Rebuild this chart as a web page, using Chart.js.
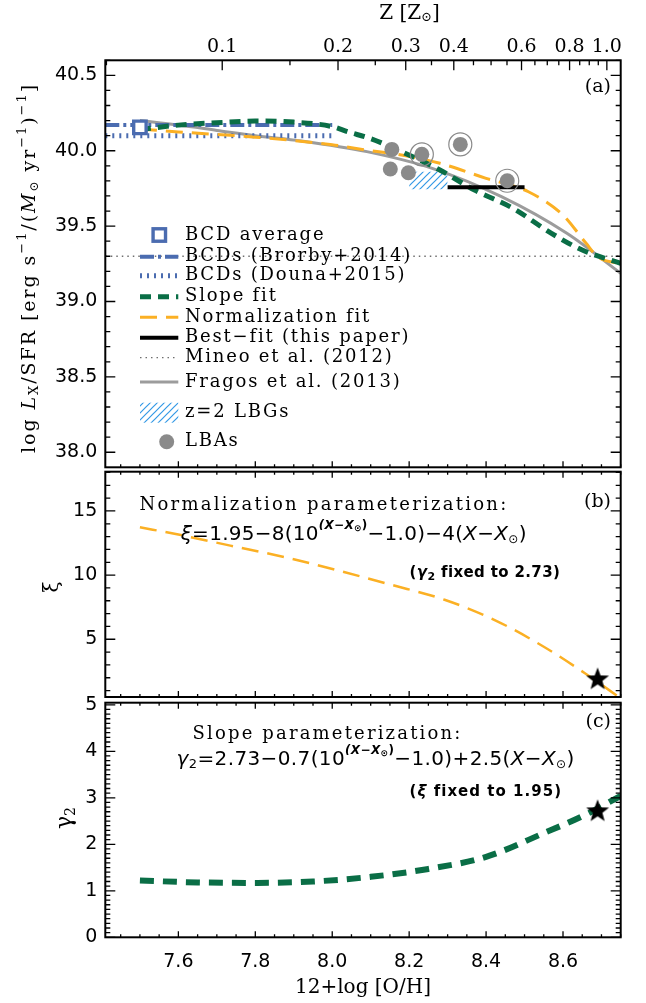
<!DOCTYPE html>
<html>
<head>
<meta charset="utf-8">
<title>Lx/SFR vs metallicity</title>
<script src="https://cdn.jsdelivr.net/npm/chart.js@4.4.1/dist/chart.umd.min.js"></script>
<style>
  body { margin: 0; background: #fff; }
  #fig { position: relative; width: 646px; height: 1003px; }
  #fig canvas { position: absolute; left: 0; top: 0; }
</style>
</head>
<body>
<div id="fig">
  <canvas id="panelA" width="646" height="1003"></canvas>
  <canvas id="panelB" width="646" height="1003"></canvas>
  <canvas id="panelC" width="646" height="1003"></canvas>
</div>
<script>
// ---------------- data ----------------
const OH_MIN = 7.41, OH_MAX = 8.75;
const OH_SUN = 8.714;           // 12+log(O/H) where Z = Z_sun on the top axis

const ohTicks = [7.6, 7.8, 8.0, 8.2, 8.4, 8.6];
const ohTickLabels = ['7.6', '7.8', '8.0', '8.2', '8.4', '8.6'];
const zTicks = [0.1, 0.2, 0.3, 0.4, 0.6, 0.8, 1.0];
const zTickLabels = ['0.1', '0.2', '0.3', '0.4', '0.6', '0.8', '1.0'];

// panel (a): log Lx/SFR
const lxTicks = [38.0, 38.5, 39.0, 39.5, 40.0, 40.5];
const lxTickLabels = ['38.0', '38.5', '39.0', '39.5', '40.0', '40.5'];

const bcdAvgOH = [7.50];
const bcdAvgLx = [40.155];
const brorbyOH = [7.41, 8.00];
const brorbyLx = [40.17, 40.17];
const dounaOH = [7.41, 8.00];
const dounaLx = [40.10, 40.10];
const slopeFitOH = [7.50, 7.60, 7.70, 7.80, 7.90, 8.00, 8.04, 8.10, 8.18, 8.28, 8.37, 8.47, 8.57, 8.65, 8.75];
const slopeFitLx = [40.14, 40.17, 40.186, 40.197, 40.19, 40.16, 40.126, 40.08, 39.994, 39.872, 39.739, 39.618, 39.452, 39.341, 39.253];
const normFitOH = [7.50, 7.60, 7.80, 8.00, 8.10, 8.18, 8.28, 8.40, 8.51, 8.60, 8.66, 8.69, 8.75];
const normFitLx = [40.145, 40.125, 40.09, 40.04, 40.0, 39.972, 39.917, 39.817, 39.728, 39.573, 39.386, 39.297, 39.25];
const bestFitOH = [8.30, 8.50];
const bestFitLx = [39.757, 39.757];
const mineoOH = [7.41, 8.75];
const mineoLx = [39.30, 39.30];
const fragosOH = [7.50, 7.60, 7.70, 7.80, 7.92, 8.09, 8.26, 8.44, 8.61, 8.75];
const fragosLx = [40.20, 40.17, 40.135, 40.10, 40.065, 39.994, 39.883, 39.695, 39.452, 39.187];
const lbgOH = [8.20, 8.30];
const lbgTop = [39.86, 39.86];
const lbgBottom = 39.745;
const lbaOH = [8.155, 8.151, 8.198, 8.233, 8.333, 8.455];
const lbaLx = [40.009, 39.879, 39.854, 39.976, 40.042, 39.801];
const lbaRingOH = [8.233, 8.333, 8.455];
const lbaRingLx = [39.976, 40.042, 39.801];

const legendLabels = ['BCD average', 'BCDs (Brorby+2014)', 'BCDs (Douna+2015)', 'Slope fit',
  'Normalization fit', 'Best\u2212fit (this paper)', 'Mineo et al. (2012)', 'Fragos et al. (2013)',
  'z=2 LBGs', 'LBAs'];

// panel (b): normalization xi
const xiTicks = [5, 10, 15];
const xiTickLabels = ['5', '10', '15'];
const xiOH = [7.50, 7.60, 7.735, 7.885, 8.024, 8.153, 8.292, 8.421, 8.55, 8.657, 8.75];
const xiVals = [13.73, 13.16, 12.30, 11.34, 10.29, 9.25, 8.08, 6.52, 4.42, 2.35, 0.40];
const xiStarOH = [8.69];
const xiStarVal = [1.95];

// panel (c): slope gamma2
const gamTicks = [0, 1, 2, 3, 4, 5];
const gamTickLabels = ['0', '1', '2', '3', '4', '5'];
const gamOH = [7.50, 7.65, 7.80, 7.95, 8.10, 8.25, 8.40, 8.55, 8.657, 8.75];
const gamVals = [1.22, 1.18, 1.17, 1.20, 1.30, 1.47, 1.73, 2.24, 2.63, 3.04];
const gamStarOH = [8.69];
const gamStarVal = [2.73];

// ---------------- layout / style ----------------
const PLOT_LEFT = 105.3, PLOT_RIGHT = 620.7;
const A_TOP = 60.3, A_BOTTOM = 467.3;
const B_TOP = 471.7, B_BOTTOM = 697;
const C_TOP = 702.7, C_BOTTOM = 937.3;

const SERIF = '"DejaVu Serif", serif';
const SANS = '"DejaVu Sans", "Liberation Sans", sans-serif';
const BLUE = '#4b6cb0', GREEN = '#0a6e46', ORANGE = '#fbb024';
const GRAY = '#9c9c9c', DOTGRAY = '#6e6e6e', LBA_GRAY = '#8a8a8a', HATCH = '#3399e6';

function steps(a, b, d) {
  const out = [];
  for (let v = a; v <= b + 1e-9; v += d) out.push(Math.round(v * 1000) / 1000);
  return out;
}
const ohMinor = steps(7.45, 8.75, 0.05);
const zMinor = steps(0.05, 1.0, 0.05);

const pts = (xs, ys) => xs.map((x, i) => ({x, y: ys[i]}));

// diagonal hatch tile, lines rising to the right
function makeHatch(color) {
  const c = document.createElement('canvas');
  c.width = c.height = 7;
  const g = c.getContext('2d');
  g.strokeStyle = color;
  g.lineWidth = 1.2;
  g.beginPath();
  for (let k = -1; k <= 1; k++) {
    g.moveTo(-1 + k * 7, 8);
    g.lineTo(8 + k * 7, -1);
  }
  g.stroke();
  return g.createPattern(c, 'repeat');
}

function makeStar(r) {
  const c = document.createElement('canvas');
  const s = Math.ceil(2 * r + 2);
  c.width = c.height = s;
  const g = c.getContext('2d');
  g.translate(s / 2, s / 2 + 1);
  g.beginPath();
  for (let i = 0; i < 10; i++) {
    const rr = i % 2 ? r * 0.42 : r;
    const a = -Math.PI / 2 + i * Math.PI / 5;
    g.lineTo(rr * Math.cos(a), rr * Math.sin(a));
  }
  g.closePath();
  g.fillStyle = '#000';
  g.fill();
  return c;
}

// text made of runs (sub/superscripts, italics), optionally stretched to a width
function drawRich(ctx, runs, x, y, base) {
  const font = r => `${r.style || base.style || 'normal'} ${r.weight || base.weight || 'normal'} ${r.size || base.size}px ${r.family || base.family}`;
  ctx.save();
  ctx.textBaseline = 'middle';
  ctx.textAlign = 'left';
  ctx.fillStyle = '#000';
  ctx.letterSpacing = '0px';
  let n = 0, w0 = 0;
  const widths = runs.map(r => {
    ctx.font = font(r);
    const w = ctx.measureText(r.t).width;
    n += [...r.t].length;
    w0 += w;
    return w;
  });
  const ls = base.width ? Math.max(0, (base.width - w0) / n) : (base.spacing || 0);
  const total = w0 + ls * n;
  let cx = base.align === 'center' ? x - total / 2 : base.align === 'right' ? x - total : x;
  runs.forEach((r, i) => {
    ctx.font = font(r);
    ctx.letterSpacing = ls + 'px';
    ctx.fillText(r.t, cx, y + (r.dy || 0));
    cx += widths[i] + ls * [...r.t].length;
  });
  ctx.restore();
}

function drawRotated(ctx, runs, x, y, base) {
  ctx.save();
  ctx.translate(x, y);
  ctx.rotate(-Math.PI / 2);
  drawRich(ctx, runs, 0, 0, Object.assign({align: 'center'}, base));
  ctx.restore();
}

// box with inward ticks on all four sides
function makeFrame(cfg) {
  return {
    id: 'frame',
    afterDraw(chart) {
      const {ctx, chartArea: a} = chart;
      const xs = chart.scales.x, ys = chart.scales.y;
      ctx.save();
      ctx.strokeStyle = '#000';
      ctx.lineWidth = 1.3;
      ctx.beginPath();
      const yTick = (v, len) => {
        const p = ys.getPixelForValue(v);
        ctx.moveTo(a.left, p); ctx.lineTo(a.left + len, p);
        ctx.moveTo(a.right, p); ctx.lineTo(a.right - len, p);
      };
      const xTick = (v, len, top, bottom) => {
        const p = xs.getPixelForValue(v);
        if (bottom) { ctx.moveTo(p, a.bottom); ctx.lineTo(p, a.bottom - len); }
        if (top) { ctx.moveTo(p, a.top); ctx.lineTo(p, a.top + len); }
      };
      cfg.yMinor.forEach(v => yTick(v, 5));
      cfg.yMajor.forEach(v => yTick(v, 10));
      ohMinor.forEach(v => xTick(v, 3, !cfg.zTop, true));
      ohTicks.forEach(v => xTick(v, 6, !cfg.zTop, true));
      if (cfg.zTop) {
        zMinor.forEach(z => xTick(OH_SUN + Math.log10(z), 5, true, false));
        zTicks.forEach(z => xTick(OH_SUN + Math.log10(z), 10, true, false));
      }
      ctx.stroke();
      ctx.lineWidth = 2;
      ctx.strokeRect(a.left, a.top, a.width, a.height);
      ctx.restore();
    }
  };
}

function baseOptions(padTop, padBottom) {
  return {
    responsive: false,
    animation: false,
    events: [],
    layout: {padding: {left: 0, right: 646 - PLOT_RIGHT, top: padTop, bottom: padBottom}},
    plugins: {legend: {display: false}, tooltip: {enabled: false}},
    scales: {}
  };
}

function yScale(min, max, ticks, labels) {
  return {
    type: 'linear', min, max,
    grid: {display: false, drawTicks: false},
    border: {display: false},
    afterBuildTicks: s => { s.ticks = ticks.map(v => ({value: v})); },
    afterFit: s => { s.width = PLOT_LEFT; },
    ticks: {callback: (v, i) => labels[i], color: '#000', padding: 8, font: {family: SANS, size: 19}}
  };
}

function hiddenX() {
  return {type: 'linear', min: OH_MIN, max: OH_MAX, display: false};
}

const hatch = makeHatch(HATCH);
const star = makeStar(12);

// ---------------- panel (a) ----------------
const optsA = baseOptions(0, 1003 - A_BOTTOM);
optsA.scales = {
  x: hiddenX(),
  xTop: {
    type: 'linear', position: 'top', min: OH_MIN, max: OH_MAX,
    grid: {display: false, drawTicks: false},
    border: {display: false},
    afterBuildTicks: s => { s.ticks = zTicks.map(z => ({value: OH_SUN + Math.log10(z)})); },
    afterFit: s => { s.height = A_TOP; },
    ticks: {callback: (v, i) => zTickLabels[i], color: '#000', padding: 2, autoSkip: false, maxRotation: 0,
      font: {family: SERIF, size: 19}}
  },
  y: yScale(37.9, 40.6, lxTicks, lxTickLabels)
};

const line = (label, xs, ys, extra) => Object.assign({
  label, mark: 'line', data: pts(xs, ys), pointRadius: 0, fill: false,
  xAxisID: 'x', yAxisID: 'y'
}, extra);

const legendRowsY = [235, 256.7, 275.7, 296.7, 317.3, 337.7, 357.7, 382, 412.7, 441.7];

const panelATexts = {
  id: 'panelATexts',
  afterDraw(chart) {
    const ctx = chart.ctx;
    drawRotated(ctx, [
      {t: 'log '}, {t: 'L', style: 'italic'}, {t: 'X', size: 13, dy: 5},
      {t: '/SFR [erg s'}, {t: '\u22121', size: 13, dy: -7}, {t: '/('},
      {t: 'M', style: 'italic'}, {t: '\u2299', size: 12, dy: 5}, {t: ' yr'},
      {t: '\u22121', size: 13, dy: -7}, {t: ')'}, {t: '\u22121', size: 13, dy: -7}, {t: ']'}
    ], 30, 268, {size: 19, family: SERIF, width: 370});
    drawRich(ctx, [{t: 'Z ['}, {t: 'Z'}, {t: '\u2299', size: 13, dy: 4}, {t: ']'}],
      409.6, 13.5, {size: 20, family: SERIF, align: 'center'});
    drawRich(ctx, [{t: '(a)'}], 611, 87, {size: 19, family: SERIF, align: 'right'});

    // legend
    const x0 = 140, x1 = 178.3, tx = 185;
    legendLabels.forEach((lab, i) => {
      const ds = chart.data.datasets.find(d => d.label === lab);
      const y = legendRowsY[i];
      ctx.save();
      if (ds.mark === 'line') {
        ctx.strokeStyle = ds.borderColor;
        ctx.lineWidth = ds.borderWidth;
        ctx.setLineDash(ds.borderDash || []);
        ctx.beginPath(); ctx.moveTo(x0, y); ctx.lineTo(x1, y); ctx.stroke();
      } else if (ds.mark === 'square') {
        const s = ds.pointRadius * Math.SQRT2;
        ctx.fillStyle = ds.backgroundColor;
        ctx.strokeStyle = ds.borderColor;
        ctx.lineWidth = ds.borderWidth;
        ctx.fillRect(159.3 - s / 2, y - s / 2, s, s);
        ctx.strokeRect(159.3 - s / 2, y - s / 2, s, s);
      } else if (ds.mark === 'hatch') {
        ctx.fillStyle = ds.backgroundColor;
        ctx.fillRect(x0, y - 10, x1 - x0, 20);
      } else if (ds.mark === 'dot') {
        ctx.fillStyle = ds.backgroundColor;
        ctx.beginPath(); ctx.arc(166.7, y, ds.pointRadius, 0, 2 * Math.PI); ctx.fill();
      }
      ctx.restore();
      drawRich(ctx, [{t: lab}], tx, y, {size: 18, family: SERIF, spacing: 1.8});
    });
  }
};

new Chart(document.getElementById('panelA'), {
  type: 'line',
  data: {
    datasets: [
      {label: 'BCD average', mark: 'square', data: pts(bcdAvgOH, bcdAvgLx), showLine: false,
        pointStyle: 'rect', pointRadius: 8.8, borderColor: BLUE, backgroundColor: '#fff', borderWidth: 3.4,
        xAxisID: 'x', yAxisID: 'y', order: 0},
      {label: 'LBAs', mark: 'dot', data: pts(lbaOH, lbaLx), showLine: false, pointRadius: 7.5,
        backgroundColor: LBA_GRAY, borderWidth: 0, xAxisID: 'x', yAxisID: 'y', order: 1},
      {label: 'LBA rings', data: pts(lbaRingOH, lbaRingLx), showLine: false, pointRadius: 11.5,
        backgroundColor: 'transparent', borderColor: LBA_GRAY, borderWidth: 1.2, xAxisID: 'x', yAxisID: 'y', order: 2},
      line('Best\u2212fit (this paper)', bestFitOH, bestFitLx, {borderColor: '#000', borderWidth: 4, order: 3}),
      line('Slope fit', slopeFitOH, slopeFitLx, {borderColor: GREEN, borderWidth: 5, borderDash: [11, 7],
        cubicInterpolationMode: 'monotone', order: 4}),
      line('Normalization fit', normFitOH, normFitLx, {borderColor: ORANGE, borderWidth: 3, borderDash: [17, 9],
        cubicInterpolationMode: 'monotone', order: 5}),
      line('BCDs (Brorby+2014)', brorbyOH, brorbyLx, {borderColor: BLUE, borderWidth: 4, borderDash: [14, 4, 3, 4], order: 6}),
      line('BCDs (Douna+2015)', dounaOH, dounaLx, {borderColor: BLUE, borderWidth: 5, borderDash: [2, 5], order: 7}),
      {label: 'z=2 LBGs', mark: 'hatch', data: pts(lbgOH, lbgTop), fill: {value: lbgBottom},
        backgroundColor: hatch, borderColor: 'transparent', borderWidth: 0, pointRadius: 0,
        xAxisID: 'x', yAxisID: 'y', order: 8},
      line('Fragos et al. (2013)', fragosOH, fragosLx, {borderColor: GRAY, borderWidth: 3,
        cubicInterpolationMode: 'monotone', order: 9}),
      line('Mineo et al. (2012)', mineoOH, mineoLx, {borderColor: DOTGRAY, borderWidth: 1.3, borderDash: [1.5, 4], order: 10})
    ]
  },
  options: optsA,
  plugins: [makeFrame({yMajor: lxTicks, yMinor: steps(38.0, 40.6, 0.1), zTop: true}), panelATexts]
});

// ---------------- panel (b) ----------------
const optsB = baseOptions(B_TOP, 1003 - B_BOTTOM);
optsB.scales = {x: hiddenX(), y: yScale(0.5, 18.06, xiTicks, xiTickLabels)};

const panelBTexts = {
  id: 'panelBTexts',
  afterDraw(chart) {
    const ctx = chart.ctx;
    drawRotated(ctx, [{t: '\u03be'}], 53, 587, {size: 20, family: SERIF});
    drawRich(ctx, [{t: '(b)'}], 611, 501.7, {size: 19, family: SERIF, align: 'right'});
    drawRich(ctx, [{t: 'Normalization parameterization:'}], 139.5, 505, {size: 18, family: SERIF, width: 369});
    drawRich(ctx, [
      {t: '\u03be', style: 'italic'}, {t: '=1.95\u22128(10'},
      {t: '(X\u2212X', size: 12, dy: -9, style: 'italic', weight: 'bold'}, {t: '\u2299', size: 9, dy: -6, weight: 'bold'},
      {t: ')', size: 12, dy: -9, weight: 'bold'},
      {t: '\u22121.0)\u22124('}, {t: 'X', style: 'italic'}, {t: '\u2212'}, {t: 'X', style: 'italic'},
      {t: '\u2299', size: 12, dy: 5}, {t: ')'}
    ], 180.7, 535, {size: 20, family: SANS, width: 346});
    drawRich(ctx, [{t: '('}, {t: '\u03b3', style: 'italic'}, {t: '2', size: 11, dy: 4}, {t: ' fixed to 2.73)'}],
      409.6, 573.3, {size: 15, family: SANS, weight: 'bold', width: 150});
  }
};

new Chart(document.getElementById('panelB'), {
  type: 'line',
  data: {
    datasets: [
      {label: 'star', data: pts(xiStarOH, xiStarVal), showLine: false, pointStyle: star, pointRadius: 12, order: 0},
      {label: 'xi', data: pts(xiOH, xiVals), borderColor: ORANGE, borderWidth: 2.5, borderDash: [17, 9],
        pointRadius: 0, fill: false, cubicInterpolationMode: 'monotone', order: 1}
    ]
  },
  options: optsB,
  plugins: [makeFrame({yMajor: xiTicks, yMinor: steps(1, 18, 1), zTop: false}), panelBTexts]
});

// ---------------- panel (c) ----------------
const optsC = baseOptions(C_TOP, 0);
optsC.scales = {
  x: {
    type: 'linear', position: 'bottom', min: OH_MIN, max: OH_MAX,
    grid: {display: false, drawTicks: false},
    border: {display: false},
    afterBuildTicks: s => { s.ticks = ohTicks.map(v => ({value: v})); },
    afterFit: s => { s.height = 1003 - C_BOTTOM; },
    ticks: {callback: (v, i) => ohTickLabels[i], color: '#000', padding: 13, autoSkip: false, maxRotation: 0,
      font: {family: SANS, size: 19}},
    title: {display: true, text: '12+log [O/H]', color: '#000', font: {family: SERIF, size: 20},
      padding: {top: 0, bottom: 3}}
  },
  y: yScale(0, 5.045, gamTicks, gamTickLabels)
};

const panelCTexts = {
  id: 'panelCTexts',
  afterDraw(chart) {
    const ctx = chart.ctx;
    drawRotated(ctx, [{t: '\u03b3'}, {t: '2', size: 14, dy: 6}], 65, 818, {size: 22, family: SERIF});
    drawRich(ctx, [{t: '(c)'}], 611, 721.7, {size: 19, family: SERIF, align: 'right'});
    drawRich(ctx, [{t: 'Slope parameterization:'}], 192.5, 734.3, {size: 18, family: SERIF, width: 270});
    drawRich(ctx, [
      {t: '\u03b3', style: 'italic'}, {t: '2', size: 13, dy: 5}, {t: '=2.73\u22120.7(10'},
      {t: '(X\u2212X', size: 12, dy: -9, style: 'italic', weight: 'bold'}, {t: '\u2299', size: 9, dy: -6, weight: 'bold'},
      {t: ')', size: 12, dy: -9, weight: 'bold'},
      {t: '\u22121.0)+2.5('}, {t: 'X', style: 'italic'}, {t: '\u2212'}, {t: 'X', style: 'italic'},
      {t: '\u2299', size: 12, dy: 5}, {t: ')'}
    ], 176.6, 760, {size: 20, family: SANS, width: 398});
    drawRich(ctx, [{t: '('}, {t: '\u03be', style: 'italic'}, {t: ' fixed to 1.95)'}],
      409.6, 791.7, {size: 15, family: SANS, weight: 'bold', width: 152});
  }
};

new Chart(document.getElementById('panelC'), {
  type: 'line',
  data: {
    datasets: [
      {label: 'star', data: pts(gamStarOH, gamStarVal), showLine: false, pointStyle: star, pointRadius: 12, order: 0},
      {label: 'gamma2', data: pts(gamOH, gamVals), borderColor: GREEN, borderWidth: 6, borderDash: [14, 9],
        pointRadius: 0, fill: false, cubicInterpolationMode: 'monotone', order: 1}
    ]
  },
  options: optsC,
  plugins: [makeFrame({yMajor: gamTicks, yMinor: steps(0, 5, 0.1), zTop: false}), panelCTexts]
});
</script>
</body>
</html>
